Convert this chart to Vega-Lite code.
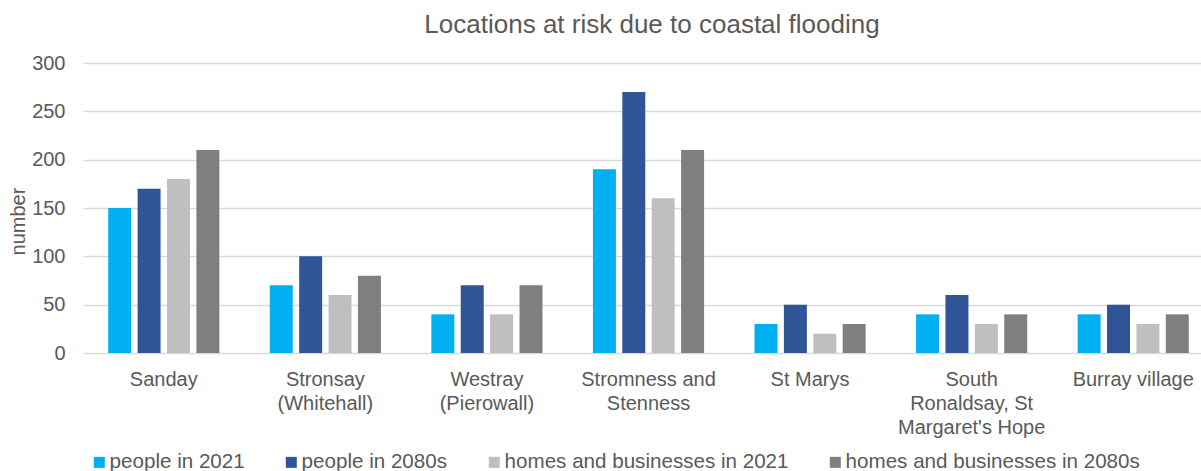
{
  "$schema": "https://vega.github.io/schema/vega-lite/v6.json",
  "autosize": {"type": "none"},
  "padding": {"left": 83, "top": 63, "right": 0, "bottom": 118},
  "width": 1118,
  "height": 290,
  "title": {
    "text": "Locations at risk due to coastal flooding",
    "anchor": "middle",
    "frame": "group",
    "fontSize": 26,
    "fontWeight": "normal",
    "color": "#595959",
    "baseline": "alphabetic",
    "offset": -6,
    "dx": 10
  },
  "data": {
    "values": [
      {"location": "Sanday", "series": "people in 2021", "value": 150},
      {"location": "Sanday", "series": "people in 2080s", "value": 170},
      {"location": "Sanday", "series": "homes and businesses in 2021", "value": 180},
      {"location": "Sanday", "series": "homes and businesses in 2080s", "value": 210},
      {"location": "Stronsay (Whitehall)", "series": "people in 2021", "value": 70},
      {"location": "Stronsay (Whitehall)", "series": "people in 2080s", "value": 100},
      {"location": "Stronsay (Whitehall)", "series": "homes and businesses in 2021", "value": 60},
      {"location": "Stronsay (Whitehall)", "series": "homes and businesses in 2080s", "value": 80},
      {"location": "Westray (Pierowall)", "series": "people in 2021", "value": 40},
      {"location": "Westray (Pierowall)", "series": "people in 2080s", "value": 70},
      {"location": "Westray (Pierowall)", "series": "homes and businesses in 2021", "value": 40},
      {"location": "Westray (Pierowall)", "series": "homes and businesses in 2080s", "value": 70},
      {"location": "Stromness and Stenness", "series": "people in 2021", "value": 190},
      {"location": "Stromness and Stenness", "series": "people in 2080s", "value": 270},
      {"location": "Stromness and Stenness", "series": "homes and businesses in 2021", "value": 160},
      {"location": "Stromness and Stenness", "series": "homes and businesses in 2080s", "value": 210},
      {"location": "St Marys", "series": "people in 2021", "value": 30},
      {"location": "St Marys", "series": "people in 2080s", "value": 50},
      {"location": "St Marys", "series": "homes and businesses in 2021", "value": 20},
      {"location": "St Marys", "series": "homes and businesses in 2080s", "value": 30},
      {"location": "South Ronaldsay, St Margaret's Hope", "series": "people in 2021", "value": 40},
      {"location": "South Ronaldsay, St Margaret's Hope", "series": "people in 2080s", "value": 60},
      {"location": "South Ronaldsay, St Margaret's Hope", "series": "homes and businesses in 2021", "value": 30},
      {"location": "South Ronaldsay, St Margaret's Hope", "series": "homes and businesses in 2080s", "value": 40},
      {"location": "Burray village", "series": "people in 2021", "value": 40},
      {"location": "Burray village", "series": "people in 2080s", "value": 50},
      {"location": "Burray village", "series": "homes and businesses in 2021", "value": 30},
      {"location": "Burray village", "series": "homes and businesses in 2080s", "value": 40}
    ]
  },
  "mark": {"type": "bar"},
  "encoding": {
    "x": {
      "field": "location",
      "type": "nominal",
      "sort": null,
      "scale": {"range": [0, 1131], "paddingInner": 0.312, "paddingOuter": 0.156},
      "axis": {
        "title": null,
        "domain": false,
        "ticks": false,
        "labelAngle": 0,
        "labelFontSize": 20,
        "labelColor": "#595959",
        "labelLineHeight": 24,
        "labelPadding": 16,
        "labelOverlap": false,
        "labelBound": false,
        "labelLimit": 300,
        "labelExpr": "datum.value == 'Stronsay (Whitehall)' ? ['Stronsay', '(Whitehall)'] : datum.value == 'Westray (Pierowall)' ? ['Westray', '(Pierowall)'] : datum.value == 'Stromness and Stenness' ? ['Stromness and', 'Stenness'] : datum.value == \"South Ronaldsay, St Margaret's Hope\" ? ['South', 'Ronaldsay, St', \"Margaret's Hope\"] : datum.label"
      }
    },
    "xOffset": {
      "field": "series",
      "type": "nominal",
      "sort": ["people in 2021", "people in 2080s", "homes and businesses in 2021", "homes and businesses in 2080s"],
      "scale": {"paddingInner": 0.218, "paddingOuter": 0}
    },
    "y": {
      "field": "value",
      "type": "quantitative",
      "scale": {"domain": [0, 300], "nice": false},
      "axis": {
        "values": [0, 50, 100, 150, 200, 250, 300],
        "title": "number",
        "titleFontSize": 20,
        "titleFontWeight": "normal",
        "titleColor": "#595959",
        "titleX": -65,
        "titleY": 158,
        "titleAlign": "center",
        "titleBaseline": "middle",
        "domain": false,
        "ticks": false,
        "grid": true,
        "gridColor": "#D9D9D9",
        "gridWidth": 1.3,
        "labelFontSize": 20,
        "labelColor": "#595959",
        "labelPadding": 18
      }
    },
    "color": {
      "field": "series",
      "type": "nominal",
      "scale": {
        "domain": ["people in 2021", "people in 2080s", "homes and businesses in 2021", "homes and businesses in 2080s"],
        "range": ["#00B0F0", "#2F5597", "#BFBFBF", "#7F7F7F"]
      },
      "legend": {
        "title": null,
        "orient": "none",
        "legendX": 6,
        "legendY": 389,
        "direction": "horizontal",
        "columns": 4,
        "columnPadding": 36,
        "symbolType": "square",
        "symbolSize": 121,
        "symbolStrokeWidth": 0,
        "labelFontSize": 20.6,
        "labelColor": "#595959",
        "labelOffset": 0,
        "labelLimit": 400,
        "padding": 0
      }
    }
  },
  "config": {
    "font": "Liberation Sans",
    "view": {"stroke": null}
  }
}
